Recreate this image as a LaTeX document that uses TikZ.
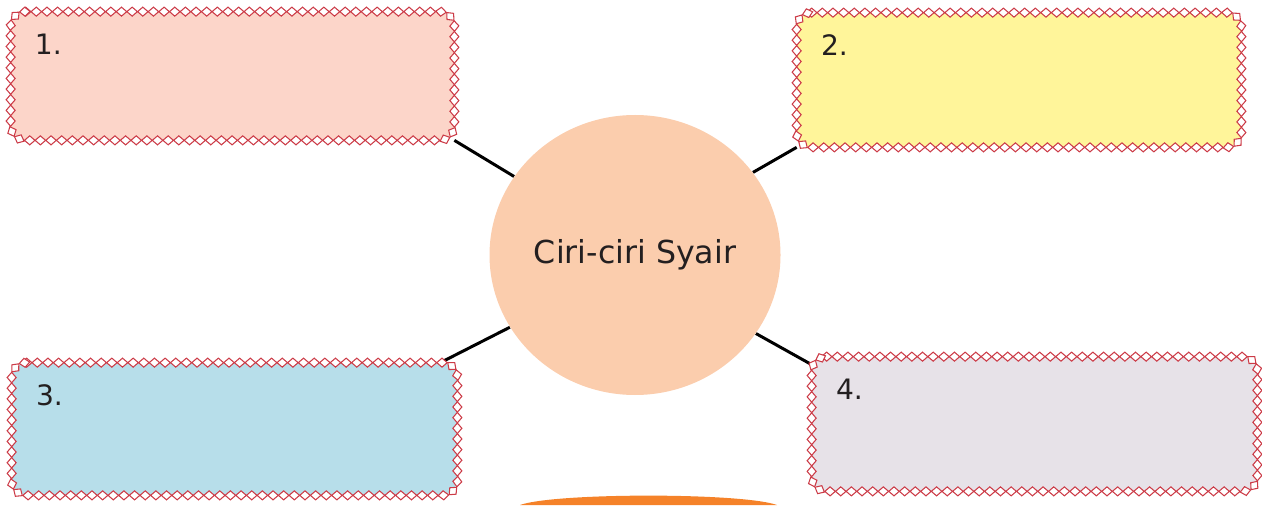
\documentclass[tikz,border=0pt]{standalone}
\usepackage{fontspec}
\setmainfont{DejaVu Sans}
\usepackage{tikz}
\usetikzlibrary{positioning,shapes.geometric,decorations.markings,backgrounds}
\definecolor{ink}{HTML}{231F20}
\definecolor{rim}{HTML}{CC3B47}
\definecolor{cardA}{HTML}{FCD5C9}
\definecolor{cardB}{HTML}{FFF59A}
\definecolor{cardC}{HTML}{B7DEEA}
\definecolor{cardD}{HTML}{E7E2E8}
\definecolor{hubfill}{HTML}{FBCDAD}
\definecolor{tab}{HTML}{F58229}

\begin{document}
\begin{tikzpicture}[
  card/.style={rectangle,rounded corners=0.3cm,inner sep=0pt},
  gem/.style={diamond,draw=rim,fill=white,line width=0.6pt,minimum width=0.21cm,minimum height=0.18cm,
    inner sep=0pt,outer sep=0pt,sharp corners,transform shape},
  frill/.style={decorate,
    decoration={markings,mark=between positions 0 and 1 step 0.213cm with {\node[gem] {};}}},
  num/.style={font=\fontsize{16}{18}\selectfont,text=ink,inner sep=0pt,anchor=base west},
  hub/.style={ellipse,fill=hubfill,minimum width=5.82cm,minimum height=5.6cm,inner sep=0pt,
    font=\fontsize{18}{21}\selectfont,text=ink},
  link/.style={draw=black,line width=1.7pt}]
\useasboundingbox (0,0) rectangle (25.24,10.1);
% feature boxes
\node[card,fill=cardA,minimum width=8.86cm,minimum height=2.56cm] (c1) at (4.65,8.58) {};
\node[card,fill=cardB,minimum width=8.88cm,minimum height=2.68cm] (c2) at (20.38,8.50) {};
\node[card,fill=cardC,minimum width=8.90cm,minimum height=2.64cm] (c3) at (4.69,1.52) {};
\node[card,fill=cardD,minimum width=8.90cm,minimum height=2.68cm] (c4) at (20.69,1.62) {};
% diamond trim, traced round each box
\foreach \c in {c1,c2,c3,c4}
  \path[frill] ([xshift=0.3cm]\c.north west) -- ([xshift=-0.3cm]\c.north east)
    arc[start angle=90,end angle=0,radius=0.3cm] -- ([yshift=0.3cm]\c.south east)
    arc[start angle=0,end angle=-90,radius=0.3cm] -- ([xshift=0.3cm]\c.south west)
    arc[start angle=270,end angle=180,radius=0.3cm] -- ([yshift=-0.3cm]\c.north west)
    arc[start angle=180,end angle=90,radius=0.3cm];
\node[num] (n1) at ([xshift=0.48cm,yshift=-0.86cm]c1.north west) {1.};
\node[num] (n2) at ([xshift=0.48cm,yshift=-0.86cm]c2.north west) {2.};
\node[num] (n3) at ([xshift=0.48cm,yshift=-0.86cm]c3.north west) {3.};
\node[num] (n4) at ([xshift=0.48cm,yshift=-0.86cm]c4.north west) {4.};
% centre
\node[hub] (syair) at (12.70,5.00) {Ciri-ciri Syair};
% spokes
\begin{scope}[on background layer]
\draw[link] (syair.147) -- (c1.south east);
\draw[link] (syair.35) -- (c2.south west);
\draw[link] (syair.210) -- ([xshift=-0.34cm]c3.north east);
\draw[link] (syair.327) -- ([yshift=-0.16cm]c4.north west);
\end{scope}
\fill[tab] (10.40,0) .. controls (11.1,0.25) and (14.84,0.25) .. (15.54,0) -- cycle;
\end{tikzpicture}
\end{document}
